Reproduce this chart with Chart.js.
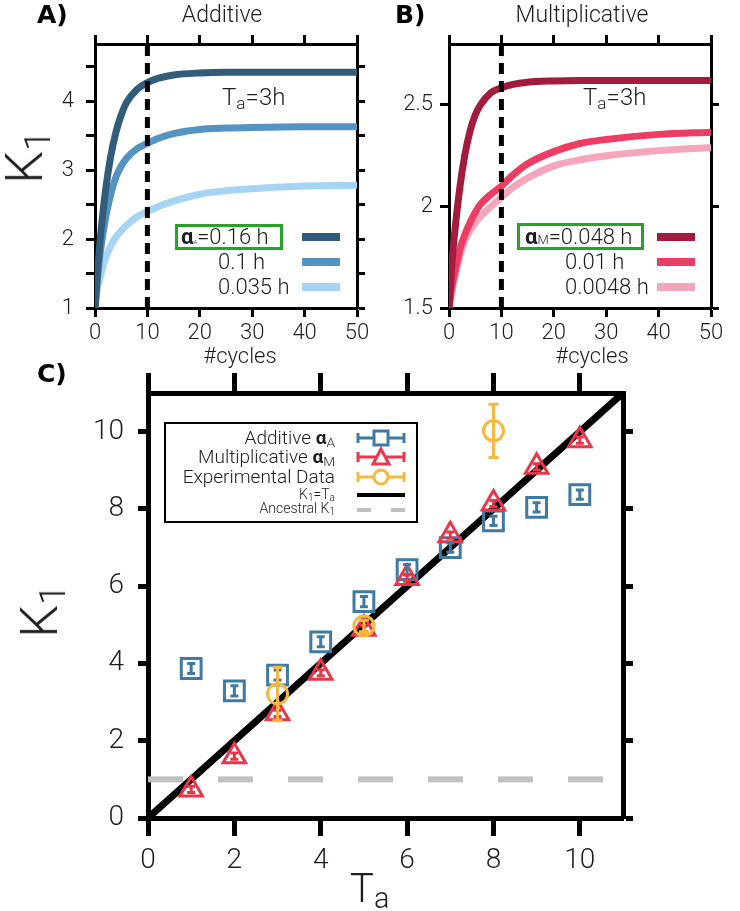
<!DOCTYPE html>
<html>
<head>
<meta charset="utf-8">
<title>K1 vs cycles and Ta</title>
<script src="https://cdn.jsdelivr.net/npm/chart.js@4.4.1/dist/chart.umd.min.js"></script>
<style>
  body { margin: 0; background: #fff; }
  #page { position: relative; width: 740px; height: 911px; overflow: hidden;
          font-family: Roboto, "Open Sans", sans-serif; font-weight: 300; color: #1e1e1e; }
  .panel { position: absolute; }
  .txt { position: absolute; white-space: nowrap; line-height: 1; }
  .mid { transform: translateX(-50%); }
  .rgt { transform: translateX(-100%); }
  .lab { font-family: "DejaVu Sans", sans-serif; font-weight: bold; font-size: 25px; color: #000; }
  .rot { transform: translate(-50%, -50%) rotate(-90deg); font-size: 52px; }
  .green { position: absolute; border: 3px solid #2ca02c; box-sizing: border-box; }
  sub { font-size: 0.72em; vertical-align: baseline; position: relative; top: 0.22em; }
  #glyphs { position: absolute; left: 0; top: 0; pointer-events: none; }
</style>
</head>
<body>
<div id="page">
  <div class="panel" style="left:0;top:0;width:370px;height:360px"><canvas id="chartA"></canvas></div>
  <div class="panel" style="left:370px;top:0;width:370px;height:360px"><canvas id="chartB"></canvas></div>
  <div class="panel" style="left:0;top:360px;width:740px;height:551px"><canvas id="chartC"></canvas></div>

  <!-- panel A text -->
  <div class="txt lab" style="left:37px;top:2px">A)</div>
  <div class="txt mid" style="left:222px;top:3px;font-size:23px">Additive</div>
  <div class="txt rot" style="left:25px;top:157px">K<sub>1</sub></div>
  <div class="txt" style="left:222px;top:85px;font-size:24px">T<sub>a</sub>=3h</div>
  <div class="txt mid" style="left:240px;top:345px;font-size:22px">#cycles</div>
  <div class="green" style="left:175px;top:224px;width:108px;height:26px"></div>
  <div class="txt" style="left:181px;top:226px;font-size:22px"><b style="font-weight:bold">α</b><span style="font-size:6px">A</span>=0.16 h</div>
  <div class="txt" style="left:218px;top:251px;font-size:22px">0.1 h</div>
  <div class="txt" style="left:218px;top:276px;font-size:22px">0.035 h</div>

  <!-- panel B text -->
  <div class="txt lab" style="left:395px;top:2px">B)</div>
  <div class="txt mid" style="left:582px;top:3px;font-size:23px">Multiplicative</div>
  <div class="txt" style="left:583px;top:85px;font-size:24px">T<sub>a</sub>=3h</div>
  <div class="txt mid" style="left:592px;top:345px;font-size:22px">#cycles</div>
  <div class="green" style="left:517px;top:223px;width:127px;height:27px"></div>
  <div class="txt" style="left:525px;top:226px;font-size:22px"><b style="font-weight:bold">α</b><span style="font-size:13px">M</span>=0.048 h</div>
  <div class="txt" style="left:565px;top:251px;font-size:22px">0.01 h</div>
  <div class="txt" style="left:565px;top:276px;font-size:22px">0.0048 h</div>

  <!-- panel C text -->
  <div class="txt lab" style="left:37px;top:361px">C)</div>
  <div class="txt rot" style="left:40px;top:611px">K<sub>1</sub></div>
  <div class="txt" style="left:350px;top:869px;font-size:40px">T<sub>a</sub></div>
  <div style="position:absolute;left:164px;top:422px;width:254px;height:101px;border:2.5px solid #000;box-sizing:border-box"></div>
  <div class="txt rgt" style="left:335px;top:428px;font-size:19px">Additive <b style="font-weight:bold">α</b><sub>A</sub></div>
  <div class="txt rgt" style="left:335px;top:447px;font-size:19px">Multiplicative <b style="font-weight:bold">α</b><sub>M</sub></div>
  <div class="txt rgt" style="left:335px;top:467px;font-size:19px">Experimental Data</div>
  <div class="txt rgt" style="left:335px;top:487px;font-size:14px">K<sub>1</sub>=T<sub>a</sub></div>
  <div class="txt rgt" style="left:335px;top:501px;font-size:14px">Ancestral K<sub>1</sub></div>

  <svg id="glyphs" width="740" height="911"></svg>
</div>

<script>
// ---- panels A and B: K1 along the cycles, Ta = 3h ----
const cycles = [0, 0.5, 1, 2, 3, 4, 5, 6, 8, 10, 12, 15, 20, 25, 30, 40, 50];
const addLabels = ['0.16 h', '0.1 h', '0.035 h'];
const addK1_016 = [1, 1.55, 2.0, 2.7, 3.2, 3.55, 3.8, 3.98, 4.17, 4.27, 4.33, 4.38, 4.41, 4.42, 4.42, 4.42, 4.42];
const addK1_010 = [1, 1.45, 1.8, 2.3, 2.65, 2.9, 3.06, 3.17, 3.31, 3.39, 3.46, 3.53, 3.59, 3.61, 3.62, 3.63, 3.63];
const addK1_0035 = [1, 1.3, 1.45, 1.72, 1.9, 2.03, 2.12, 2.2, 2.32, 2.4, 2.47, 2.55, 2.65, 2.7, 2.73, 2.77, 2.78];
const mulLabels = ['0.048 h', '0.01 h', '0.0048 h'];
const mulK1_0048 = [1.5, 1.7, 1.85, 2.08, 2.25, 2.37, 2.45, 2.5, 2.56, 2.585, 2.6, 2.612, 2.618, 2.62, 2.62, 2.62, 2.62];
const mulK1_001 = [1.5, 1.6, 1.66, 1.78, 1.86, 1.92, 1.97, 2.01, 2.06, 2.1, 2.15, 2.21, 2.27, 2.31, 2.33, 2.355, 2.366];
const mulK1_00048 = [1.5, 1.57, 1.64, 1.75, 1.83, 1.88, 1.92, 1.95, 2.0, 2.045, 2.09, 2.14, 2.2, 2.23, 2.25, 2.275, 2.29];
const markerCycle = 10;
const cycleTicks = [0, 10, 20, 30, 40, 50];
const addYTicks = [1, 1.5, 2, 2.5, 3, 3.5, 4, 4.5];
const addYLabels = [1, 2, 3, 4];
const mulYTicks = [1.5, 2, 2.5];
const mulYLabels = [1.5, 2, 2.5];

// ---- panel C: K1 against Ta ----
const Ta = [1, 2, 3, 4, 5, 6, 7, 8, 9, 10];
const additiveK1 = [3.87, 3.29, 3.70, 4.56, 5.60, 6.43, 7.00, 7.69, 8.04, 8.37];
const additiveErr = [0.13, 0.13, 0.13, 0.13, 0.13, 0.13, 0.12, 0.12, 0.12, 0.12];
const multiplicativeK1 = [0.74, 1.60, 2.71, 3.76, 4.90, 6.21, 7.32, 8.14, 9.09, 9.78];
const multiplicativeErr = [0.08, 0.08, 0.08, 0.08, 0.08, 0.08, 0.08, 0.08, 0.08, 0.08];
const expTa = [3, 5, 8];
const expK1 = [3.21, 4.97, 10.02];
const expErr = [0.69, 0.15, 0.69];
const ancestralK1 = 1;
const taTicks = [0, 2, 4, 6, 8, 10];
const k1Ticks = [0, 2, 4, 6, 8, 10];

const addColors = ['#315c7a', '#5593c3', '#a6d4f5'];
const mulColors = ['#a31c3e', '#ee3d62', '#f5a6ba'];
const blue = '#3f7aa3', red = '#e8364a', yellow = '#f9b73e', grey = '#c0c0c0';

function pts(xs, ys) { return xs.map((x, i) => ({ x: x, y: ys[i] })); }

function makeAxis(o) {
  const horiz = o.position === 'top' || o.position === 'bottom';
  return {
    type: 'linear', position: o.position, min: o.min, max: o.max,
    border: { display: true, color: '#000', width: o.bw },
    grid: { display: true, drawOnChartArea: false, drawTicks: true,
            tickLength: o.tl, tickWidth: o.bw, tickColor: '#000' },
    ticks: {
      autoSkip: false, maxRotation: 0, padding: o.pad || 0, color: '#1e1e1e',
      font: { family: 'Roboto', size: o.fs || 20, weight: '300' },
      callback: v => (o.labels && o.labels.includes(v)) ? String(v) : ''
    },
    afterBuildTicks: s => { s.ticks = o.ticks.map(v => ({ value: v })); },
    afterFit: s => {
      if (horiz) s.height = o.size; else s.width = o.size;
      s.paddingLeft = s.paddingRight = s.paddingTop = s.paddingBottom = 0;
    }
  };
}

function curveChart(id, series, colors, yMin, yMax, yTicks, yLabels, leftW, rightW, yPad) {
  const datasets = series.map((s, i) => ({
    data: pts(cycles, s), borderColor: colors[i], borderWidth: 7,
    pointRadius: 0, cubicInterpolationMode: 'monotone', order: i + 1
  }));
  datasets.push({
    data: [{ x: markerCycle, y: yMin }, { x: markerCycle, y: yMax }],
    borderColor: '#000', borderWidth: 5, borderDash: [11, 7], pointRadius: 0, order: 0
  });
  new Chart(document.getElementById(id), {
    type: 'line',
    data: { datasets: datasets },
    options: {
      animation: false, responsive: true, maintainAspectRatio: false, events: [],
      layout: { padding: 0 },
      plugins: { legend: { display: false }, tooltip: { enabled: false } },
      scales: {
        x: makeAxis({ position: 'bottom', min: 0, max: 50, ticks: cycleTicks, labels: cycleTicks,
                      size: 52, bw: 3, tl: 9, pad: 3, fs: 22 }),
        x2: makeAxis({ position: 'top', min: 0, max: 50, ticks: cycleTicks, size: 44, bw: 3, tl: 9 }),
        y: makeAxis({ position: 'left', min: yMin, max: yMax, ticks: yTicks, labels: yLabels,
                      size: leftW, bw: 3, tl: 9, pad: yPad, fs: 22 }),
        y2: makeAxis({ position: 'right', min: yMin, max: yMax, ticks: yTicks, size: rightW, bw: 3, tl: 8 })
      }
    }
  });
}

curveChart('chartA', [addK1_016, addK1_010, addK1_0035], addColors, 1, 4.83, addYTicks, addYLabels, 95, 13, 12);
curveChart('chartB', [mulK1_0048, mulK1_001, mulK1_00048], mulColors, 1.5, 2.8, mulYTicks, mulYLabels, 79, 29, 7);

// error bars drawn through the chart's own scales
const errorBars = {
  id: 'errorBars',
  afterDatasetsDraw(chart) {
    const ctx = chart.ctx, xs = chart.scales.x, ys = chart.scales.y;
    chart.data.datasets.forEach(ds => {
      if (!ds.errors) return;
      ctx.save();
      ctx.strokeStyle = ds.pointBorderColor;
      ctx.lineWidth = 3;
      ds.data.forEach((p, j) => {
        const px = xs.getPixelForValue(p.x);
        const top = ys.getPixelForValue(p.y + ds.errors[j]);
        const bot = ys.getPixelForValue(p.y - ds.errors[j]);
        const c = ds.capSize;
        ctx.beginPath();
        ctx.moveTo(px, top); ctx.lineTo(px, bot);
        ctx.moveTo(px - c, top); ctx.lineTo(px + c, top);
        ctx.moveTo(px - c, bot); ctx.lineTo(px + c, bot);
        ctx.stroke();
      });
      ctx.restore();
    });
  }
};

function markers(xs, ys, errs, color, style, r, order) {
  return {
    data: pts(xs, ys), errors: errs, capSize: 4, showLine: false, order: order,
    pointStyle: style, pointRadius: r, pointHoverRadius: r, pointBorderWidth: 3,
    pointBorderColor: color, pointBackgroundColor: 'rgba(255,255,255,0)',
    borderColor: color, backgroundColor: 'rgba(255,255,255,0)'
  };
}

new Chart(document.getElementById('chartC'), {
  type: 'scatter',
  data: {
    datasets: [
      { data: [{ x: 0, y: 0 }, { x: 11, y: 11 }], showLine: true, borderColor: '#000',
        borderWidth: 7, pointRadius: 0, order: 5 },
      { data: [{ x: 0, y: ancestralK1 }, { x: 11, y: ancestralK1 }], showLine: true, borderColor: grey,
        borderWidth: 6, borderDash: [35, 35], pointRadius: 0, order: 4 },
      markers(Ta, additiveK1, additiveErr, blue, 'rect', 14, 3),
      markers(Ta, multiplicativeK1, multiplicativeErr, red, 'triangle', 13, 2),
      Object.assign(markers(expTa, expK1, expErr, yellow, 'circle', 10, 1), { capSize: 5 })
    ]
  },
  options: {
    animation: false, responsive: true, maintainAspectRatio: false, events: [],
    layout: { padding: 0 },
    plugins: { legend: { display: false }, tooltip: { enabled: false } },
    scales: {
      x: makeAxis({ position: 'bottom', min: 0, max: 11, ticks: taTicks, labels: taTicks,
                    size: 93, bw: 5, tl: 18, pad: 8, fs: 28 }),
      x2: makeAxis({ position: 'top', min: 0, max: 11, ticks: taTicks, size: 33, bw: 5, tl: 20 }),
      y: makeAxis({ position: 'left', min: 0, max: 11, ticks: k1Ticks, labels: k1Ticks,
                    size: 148, bw: 5, tl: 10, pad: 14, fs: 28 }),
      y2: makeAxis({ position: 'right', min: 0, max: 11, ticks: k1Ticks, size: 117, bw: 5, tl: 10 })
    }
  },
  plugins: [errorBars]
});

// legend glyphs
const svg = document.getElementById('glyphs');
function el(tag, attrs) {
  const e = document.createElementNS('http://www.w3.org/2000/svg', tag);
  for (const k in attrs) e.setAttribute(k, attrs[k]);
  svg.appendChild(e);
  return e;
}
[237, 262, 287].forEach((y, i) => {
  el('line', { x1: 302, x2: 340, y1: y, y2: y, stroke: addColors[i], 'stroke-width': 8 });
  el('line', { x1: 657, x2: 695, y1: y, y2: y, stroke: mulColors[i], 'stroke-width': 8 });
});
function errLine(y, color) {
  el('line', { x1: 358, x2: 404, y1: y, y2: y, stroke: color, 'stroke-width': 3 });
  el('line', { x1: 358, x2: 358, y1: y - 5, y2: y + 5, stroke: color, 'stroke-width': 3 });
  el('line', { x1: 404, x2: 404, y1: y - 5, y2: y + 5, stroke: color, 'stroke-width': 3 });
}
errLine(438, blue);
el('rect', { x: 374, y: 431, width: 14, height: 14, fill: '#fff', stroke: blue, 'stroke-width': 3 });
errLine(457, red);
el('polygon', { points: '381,449 373,464 389,464', fill: '#fff', stroke: red, 'stroke-width': 3 });
errLine(477, yellow);
el('circle', { cx: 381, cy: 477, r: 7, fill: '#fff', stroke: yellow, 'stroke-width': 3 });
el('line', { x1: 357, x2: 405, y1: 495, y2: 495, stroke: '#000', 'stroke-width': 4 });
el('line', { x1: 357, x2: 371, y1: 510, y2: 510, stroke: grey, 'stroke-width': 4 });
el('line', { x1: 391, x2: 405, y1: 510, y2: 510, stroke: grey, 'stroke-width': 4 });
</script>
</body>
</html>
